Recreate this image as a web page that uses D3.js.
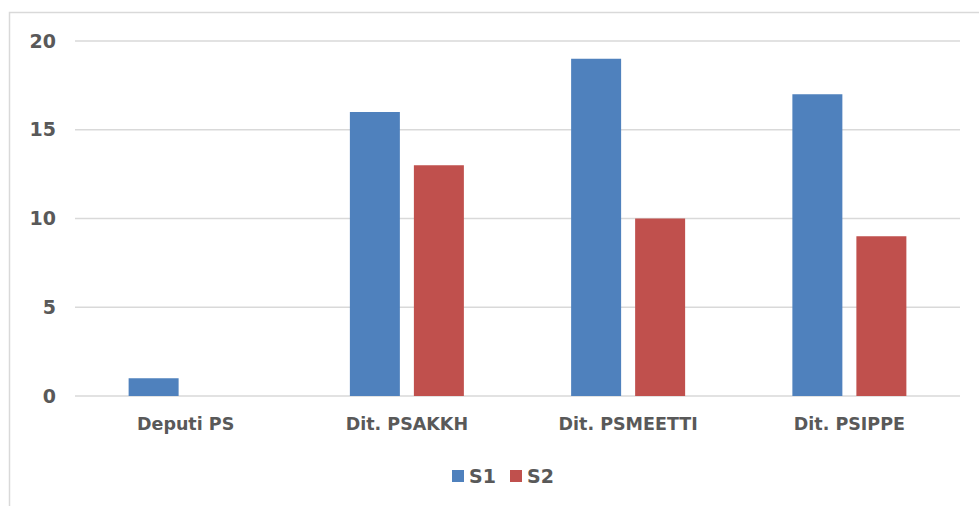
<!DOCTYPE html>
<html>
<head>
<meta charset="utf-8">
<script src="https://cdn.jsdelivr.net/npm/d3@7"></script>
<style>
  body { margin: 0; background: #fff; }
  text { font-family: "DejaVu Sans", "Open Sans", sans-serif; fill: #595959; }
</style>
</head>
<body>
<div id="chart"></div>
<script>
var categories = ["Deputi PS", "Dit. PSAKKH", "Dit. PSMEETTI", "Dit. PSIPPE"];
var seriesNames = ["S1", "S2"];
var s1 = [1, 16, 19, 17];
var s2 = [0, 13, 10, 9];
var yTicks = [0, 5, 10, 15, 20];
var colors = ["#4f81bd", "#c0504d"];

function init() {
    var W = 979, H = 506;
    var margin = { top: 41, left: 75, right: 19, bottom: 110 };
    var width = W - margin.left - margin.right,
        height = H - margin.top - margin.bottom;

    var svg = d3.select("#chart").append("svg")
        .attr("width", W).attr("height", H);

    // chart frame
    svg.append("rect")
        .attr("x", 9.5).attr("y", 12.5)
        .attr("width", 1000).attr("height", 1000)
        .style("fill", "none").style("stroke", "#d9d9d9").style("stroke-width", 1.5);

    var g = svg.append("g")
        .attr("transform", "translate(" + margin.left + "," + margin.top + ")");

    var x = d3.scaleBand().domain(categories).range([0, width]);
    var y = d3.scaleLinear().domain([0, 20]).range([height, 0]);

    var inner = d3.scaleBand().domain(seriesNames)
        .range([x.bandwidth() / 2 - 57, x.bandwidth() / 2 + 57])
        .paddingInner(0.219);

    g.selectAll(".grid").data(yTicks).enter().append("line")
        .attr("x1", 0).attr("x2", width)
        .attr("y1", d => y(d)).attr("y2", d => y(d))
        .style("stroke", "#d9d9d9").style("stroke-width", 1.5);

    g.selectAll(".ytick").data(yTicks).enter().append("text")
        .attr("x", -19).attr("y", d => y(d)).attr("dy", "0.35em")
        .attr("text-anchor", "end")
        .style("font-size", "19px").style("font-weight", "bold")
        .text(d => d);

    var series = [s1, s2];
    series.forEach(function (vals, si) {
        g.selectAll(".bar" + si).data(vals).enter().append("rect")
            .attr("x", (d, i) => x(categories[i]) + inner(seriesNames[si]))
            .attr("y", d => y(d))
            .attr("width", inner.bandwidth())
            .attr("height", d => height - y(d))
            .style("fill", colors[si]);
    });

    g.selectAll(".xlab").data(categories).enter().append("text")
        .attr("x", d => x(d) + x.bandwidth() / 2)
        .attr("y", height + 34)
        .attr("text-anchor", "middle")
        .style("font-size", "17.5px").style("font-weight", "bold")
        .text(d => d);

    // legend
    var legX = [452, 510];
    seriesNames.forEach(function (s, i) {
        svg.append("rect")
            .attr("x", legX[i]).attr("y", 470)
            .attr("width", 12).attr("height", 12)
            .style("fill", colors[i]);
        svg.append("text")
            .attr("x", legX[i] + 17).attr("y", 476).attr("dy", "0.35em")
            .style("font-size", "19px").style("font-weight", "bold")
            .text(s);
    });
}

window.onload = init;
</script>
</body>
</html>
